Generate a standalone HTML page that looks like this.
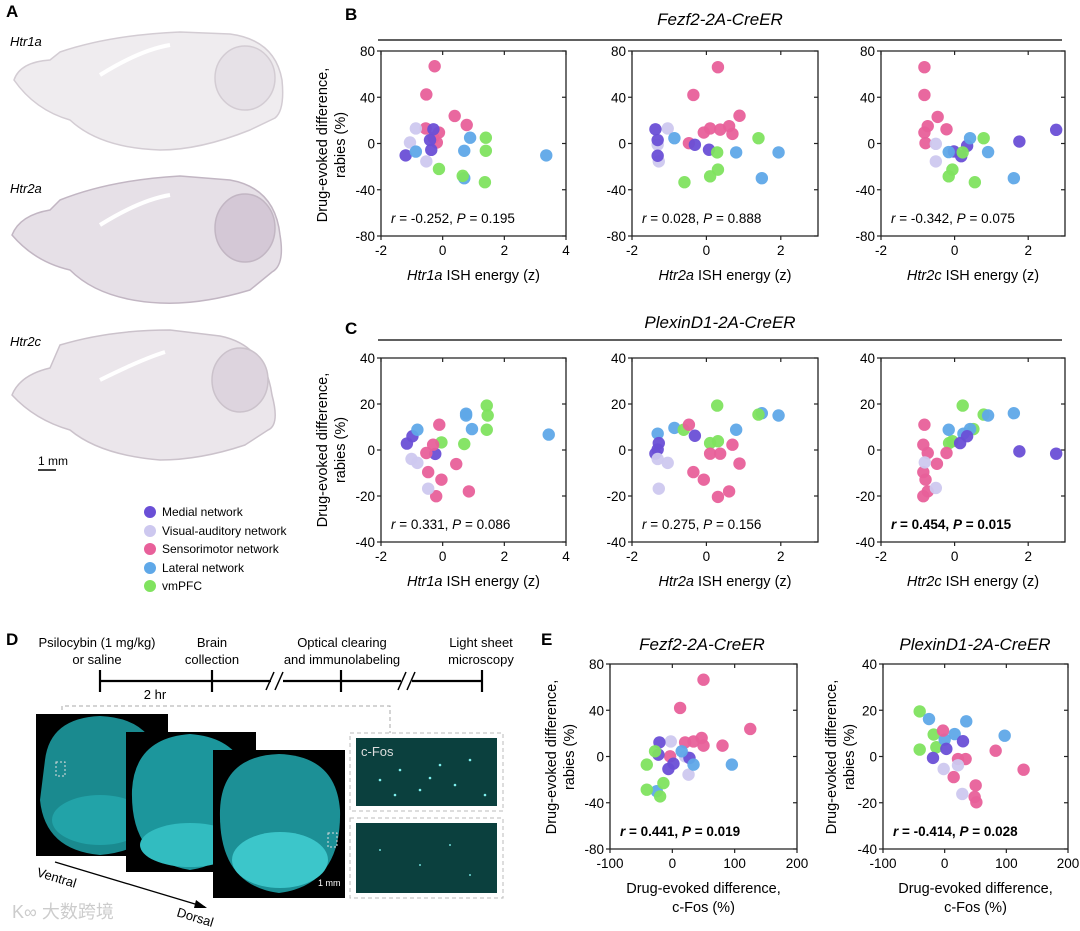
<!DOCTYPE html>
<html><head><meta charset="utf-8">
<style>
html,body{margin:0;padding:0;background:#fff;}
svg{display:block;font-family:"Liberation Sans","Noto Sans CJK SC",sans-serif;}
</style></head>
<body>
<svg id="fig" width="1080" height="931" viewBox="0 0 1080 931" xmlns="http://www.w3.org/2000/svg">
<g>
<text x="6" y="17" font-size="17" font-weight="bold">A</text>
<text x="10" y="46" font-size="13" font-style="italic">Htr1a</text>
<text x="10" y="193" font-size="13" font-style="italic">Htr2a</text>
<text x="10" y="346" font-size="13" font-style="italic">Htr2c</text>
<g fill="#efecef" stroke="#d3ccd3" stroke-width="1.5">
<path d="M14,80 Q20,62 50,60 L60,52 Q110,35 180,32 L230,34 Q275,40 282,80 Q285,110 275,118 L250,130 Q200,150 160,150 Q100,148 70,120 Q35,110 14,80 Z"/>
<ellipse cx="245" cy="78" rx="30" ry="32" fill="#e6e1e7"/>
<path d="M100,75 Q140,50 170,45" stroke="#fff" stroke-width="4" fill="none"/>
</g>
<g fill="#e6e0e7" stroke="#c2b6c3" stroke-width="1.5">
<path d="M12,235 Q20,215 50,210 L60,200 Q110,180 180,176 L230,180 Q275,188 280,235 Q285,265 272,272 L250,290 Q200,305 160,303 Q100,300 70,270 Q35,262 12,235 Z"/>
<ellipse cx="245" cy="228" rx="30" ry="34" fill="#d4c8d6"/>
<path d="M100,225 Q140,200 170,195" stroke="#fff" stroke-width="4" fill="none"/>
</g>
<g fill="#ebe6eb" stroke="#cbc2cb" stroke-width="1.5">
<path d="M12,395 Q20,375 50,368 L60,345 Q110,330 170,330 L220,336 Q265,345 272,395 Q280,425 268,430 L245,445 Q200,460 160,460 Q100,455 70,430 Q35,420 12,395 Z"/>
<ellipse cx="240" cy="380" rx="28" ry="32" fill="#ddd4de"/>
<path d="M100,380 Q140,360 165,352" stroke="#fff" stroke-width="4" fill="none"/>
</g>
<text x="38" y="465" font-size="12">1 mm</text>
<line x1="38" y1="470" x2="56" y2="470" stroke="#000" stroke-width="1.5"/>
</g>
<g font-size="12">
<g><circle cx="150" cy="512" r="6" fill="#6a4fd6"/><text x="162" y="516">Medial network</text></g>
<g><circle cx="150" cy="531" r="6" fill="#cdc8ef"/><text x="162" y="535">Visual-auditory network</text></g>
<g><circle cx="150" cy="549" r="6" fill="#e8609a"/><text x="162" y="553">Sensorimotor network</text></g>
<g><circle cx="150" cy="568" r="6" fill="#5fa8e8"/><text x="162" y="572">Lateral network</text></g>
<g><circle cx="150" cy="586" r="6" fill="#80e35f"/><text x="162" y="590">vmPFC</text></g>
</g>
<text x="345" y="20" font-size="17" font-weight="bold">B</text>
<text x="345" y="334" font-size="17" font-weight="bold">C</text>
<text x="6" y="645" font-size="17" font-weight="bold">D</text>
<text x="541" y="645" font-size="17" font-weight="bold">E</text>
<text x="720" y="25" font-size="17" font-style="italic" text-anchor="middle">Fezf2-2A-CreER</text>
<line x1="378" y1="40" x2="1062" y2="40" stroke="#000" stroke-width="1.2"/>
<text x="720" y="328" font-size="17" font-style="italic" text-anchor="middle">PlexinD1-2A-CreER</text>
<line x1="378" y1="340" x2="1062" y2="340" stroke="#000" stroke-width="1.2"/>
<text x="702" y="650" font-size="17" font-style="italic" text-anchor="middle">Fezf2-2A-CreER</text>
<text x="975" y="650" font-size="17" font-style="italic" text-anchor="middle">PlexinD1-2A-CreER</text>
<g font-size="13">
<text x="97" y="647" text-anchor="middle">Psilocybin (1 mg/kg)</text>
<text x="97" y="664" text-anchor="middle">or saline</text>
<text x="212" y="647" text-anchor="middle">Brain</text>
<text x="212" y="664" text-anchor="middle">collection</text>
<text x="342" y="647" text-anchor="middle">Optical clearing</text>
<text x="342" y="664" text-anchor="middle">and immunolabeling</text>
<text x="481" y="647" text-anchor="middle">Light sheet</text>
<text x="481" y="664" text-anchor="middle">microscopy</text>
<g stroke="#000" stroke-width="2.2">
<line x1="100" y1="681" x2="271" y2="681"/><line x1="283" y1="681" x2="401" y2="681"/><line x1="412" y1="681" x2="482" y2="681"/>
<line x1="100" y1="670" x2="100" y2="692"/><line x1="212" y1="670" x2="212" y2="692"/><line x1="341" y1="670" x2="341" y2="692"/><line x1="482" y1="670" x2="482" y2="692"/>
<line x1="266" y1="690" x2="274" y2="672" stroke-width="1.5"/><line x1="275" y1="690" x2="283" y2="672" stroke-width="1.5"/>
<line x1="398" y1="690" x2="406" y2="672" stroke-width="1.5"/><line x1="407" y1="690" x2="415" y2="672" stroke-width="1.5"/>
</g>
<text x="155" y="699" text-anchor="middle">2 hr</text>
<path d="M62,710 V706 H390 V733" fill="none" stroke="#aaa" stroke-dasharray="4,3"/>
<rect x="36" y="714" width="132" height="142" fill="#000"/>
<path d="M45,760 Q50,718 100,716 Q150,718 160,760 L165,800 Q160,850 100,855 Q45,850 40,800 Z" fill="#1a8a8f"/>
<ellipse cx="100" cy="820" rx="48" ry="25" fill="#22a3a8"/>
<rect x="56" y="762" width="9" height="14" fill="none" stroke="#ddd" stroke-dasharray="2,2"/>
<rect x="126" y="732" width="130" height="140" fill="#000"/>
<path d="M132,790 Q135,738 190,734 Q245,738 250,790 Q252,860 190,870 Q130,860 132,790 Z" fill="#1c969c"/>
<ellipse cx="190" cy="845" rx="50" ry="22" fill="#32bcc0"/>
<rect x="213" y="750" width="132" height="148" fill="#000"/>
<path d="M220,810 Q222,756 279,754 Q336,756 340,810 Q342,885 279,893 Q218,885 220,810 Z" fill="#1c9096"/>
<ellipse cx="280" cy="860" rx="48" ry="28" fill="#3cc6ca"/>
<rect x="328" y="833" width="9" height="14" fill="none" stroke="#ddd" stroke-dasharray="2,2"/>
<text x="318" y="886" font-size="9" fill="#fff">1 mm</text>
<rect x="350" y="733" width="153" height="78" fill="none" stroke="#bbb" stroke-dasharray="4,3"/>
<rect x="356" y="738" width="141" height="68" fill="#0b403e"/>
<g fill="#7ff0ee"><circle cx="380" cy="780" r="1.3"/><circle cx="400" cy="770" r="1.3"/><circle cx="420" cy="790" r="1.3"/><circle cx="440" cy="765" r="1.3"/><circle cx="455" cy="785" r="1.3"/><circle cx="470" cy="760" r="1.3"/><circle cx="485" cy="795" r="1.3"/><circle cx="430" cy="778" r="1.3"/><circle cx="395" cy="795" r="1.3"/></g>
<text x="361" y="756" fill="#ddd" font-size="13">c-Fos</text>
<rect x="350" y="818" width="153" height="80" fill="none" stroke="#bbb" stroke-dasharray="4,3"/>
<rect x="356" y="823" width="141" height="70" fill="#0b403e"/>
<g fill="#6fd8d6"><circle cx="380" cy="850" r="1"/><circle cx="420" cy="865" r="1"/><circle cx="450" cy="845" r="1"/><circle cx="470" cy="875" r="1"/></g>
<text x="36" y="876" transform="rotate(17 36 876)" font-size="13">Ventral</text>
<line x1="55" y1="862" x2="205" y2="907" stroke="#000" stroke-width="1.3"/>
<path d="M207,908 L196,900 L194,908 Z" fill="#000"/>
<text x="176" y="916" transform="rotate(17 176 916)" font-size="13">Dorsal</text>
<text x="12" y="918" font-size="18" fill="#ccc">K∞ 大数跨境</text>
</g>
<g id="charts"></g>
</svg>
<script>
const b1X=[-0.26,-0.53,0.39,0.78,-0.55,-0.12,-0.3,-0.19,-0.87,-1.06,-0.53,-0.3,-0.41,-0.37,-1.2,-0.87,0.89,0.7,0.7,3.36,1.4,1.4,-0.12,0.65,1.37];
const b1Y=[66.8,42.4,23.8,16,13,9.5,5,0.9,13,0.9,-15.5,12.3,3,-5.5,-10.3,-7,5,-6.3,-30,-10.3,5,-6.3,-22,-28,-33.5];
const b1G=["s","s","s","s","s","s","s","s","v","v","v","m","m","m","m","l","l","l","l","l","g","g","g","g","g"];
const b2X=[0.31,-0.35,0.89,0.61,0.37,0.1,-0.07,0.7,-0.47,-1.04,-1.31,-1.28,-1.37,-1.31,-1.31,-0.31,0.07,-0.86,0.8,1.94,1.49,1.4,0.29,0.31,0.1,-0.59];
const b2Y=[66,42,24,15,12,13,9.5,8.3,0.3,13,-1.1,-15.5,12.3,3,-10.6,-1.1,-5.4,4.6,-7.7,-7.7,-30,4.6,-7.7,-22.6,-28.4,-33.5];
const b2G=["s","s","s","s","s","s","s","s","s","v","v","v","m","m","m","m","m","l","l","l","l","g","g","g","g","g"];
const b3X=[-0.82,-0.82,-0.46,-0.73,-0.22,-0.82,-0.79,-0.51,-0.51,2.76,1.76,0.34,-0.02,0.18,0.42,-0.16,0.91,1.61,0.79,0.22,-0.06,-0.16,0.55];
const b3Y=[66,42,23,15,12.3,9.5,0.3,-0.3,-15.5,11.8,1.7,-2,-6.9,-11,4.6,-7.4,-7.4,-30,4.6,-7.7,-22.6,-28.4,-33.5];
const b3G=["s","s","s","s","s","s","s","v","v","m","m","m","m","m","l","l","l","l","g","g","g","g","g"];
const c1X=[-1.16,-0.98,-0.24,-0.82,0.76,0.76,0.95,3.44,1.43,1.46,1.43,-0.04,0.7,-0.11,-0.31,-0.53,0.44,-0.47,-0.04,0.85,-0.21,-1.01,-0.82,-0.47];
const c1Y=[2.8,6,-1.7,8.8,15.8,15,9.1,6.7,19.3,15,8.8,3.3,2.6,11,2.3,-1.3,-6.1,-9.6,-12.9,-18,-20.1,-3.9,-5.6,-16.8];
const c1G=["m","m","m","l","l","l","l","l","g","g","g","g","g","s","s","s","s","s","s","s","s","v","v","v"];
const c2X=[-1.31,-0.86,0.8,1.49,1.94,-0.61,0.29,1.4,0.1,0.31,-1.28,-1.31,-1.37,-0.31,-0.47,0.7,0.1,0.37,0.89,-0.35,-0.07,0.61,0.31,-1.31,-1.04,-1.28];
const c2Y=[7.1,9.6,8.8,16,15,8.8,19.3,15.4,3,3.8,3,0.2,-1.6,6.2,11,2.3,-1.6,-1.6,-5.9,-9.6,-12.9,-18,-20.4,-3.9,-5.6,-16.8];
const c2G=["l","l","l","l","l","g","g","g","g","g","m","m","m","m","s","s","s","s","s","s","s","s","s","v","v","v"];
const c3X=[0.22,0.79,0.51,-0.15,-0.06,1.61,0.91,-0.16,0.24,0.42,0.34,0.15,1.76,2.76,-0.82,-0.85,-0.73,-0.22,-0.48,-0.85,-0.79,-0.73,-0.85,-0.81,-0.51];
const c3Y=[19.3,15.4,9.1,3,3.8,16,15,8.8,7.1,9.1,6,3,-0.6,-1.6,11,2.3,-1.3,-1.3,-6,-9.6,-12.9,-18,-20.1,-5.4,-16.5];
const c3G=["g","g","g","g","g","l","l","l","l","l","m","m","m","m","s","s","s","s","s","s","s","s","s","v","v"];
const e1X=[50,12.5,125,34,20.5,47,50,80.5,-3.6,-2.5,20.5,26,-20.7,-22.3,27.5,1.8,-6.3,15,34,95.5,-25,-27.7,-41,-41,-14.3,-19.6];
const e1Y=[66.4,42,23.8,13,12.2,16,9.4,9.4,0.1,13,0.1,-15.7,12.2,1.6,-1.3,-6.2,-10.8,4.5,-7,-7,-30,4.5,-7,-28.7,-23,-34.5];
const e1G=["s","s","s","s","s","s","s","s","s","v","v","v","m","m","m","m","m","l","l","l","l","g","g","g","g","g"];
const e2X=[-40.5,-17.8,-40.5,-13.5,-25.4,35,16.2,97.3,0,-2.7,82.7,128,21.6,34,14.6,50.3,48.6,51.4,29.7,2.7,-18.9,-1.6,21.6,28.6];
const e2Y=[19.5,9.5,3,4,16.2,15.2,9.7,9,7.3,11.2,2.5,-5.7,-1.1,-1.1,-8.9,-12.5,-17.5,-19.8,6.6,3.3,-0.6,-5.4,-3.8,-16.2];
const e2G=["g","g","g","g","l","l","l","l","l","s","s","s","s","s","s","s","s","s","m","m","m","v","v","v"];
const bYTicks=[-80,-40,0,40,80];
const cYTicks=[-40,-20,0,20,40];
const zXTicks1=[-2,0,2,4];
const zXTicks2=[-2,0,2];
const eXTicks=[-100,0,100,200];

const COLORS={m:"#6a4fd6",v:"#cdc8ef",s:"#e8609a",l:"#5fa8e8",g:"#80e35f"};
const NS="http://www.w3.org/2000/svg";
const root=document.getElementById("charts");
function mk(tag,attrs,parent){const e=document.createElementNS(NS,tag);for(const k in attrs)e.setAttribute(k,attrs[k]);parent.appendChild(e);return e;}

function scatter(name,box,xd,yd,xt,yt,xs,ys,gs,stat,bold,xTitleLines){
  const g=mk("g",{},root);
  
  
  const [L,T,R,B]=box;
  const sx=v=>L+(v-xd[0])/(xd[1]-xd[0])*(R-L);
  const sy=v=>B-(v-yd[0])/(yd[1]-yd[0])*(B-T);
  const ax=mk("path",{d:`M${L},${T}H${R}V${B}H${L}Z`,fill:"none",stroke:"#222","stroke-width":1.3},g);
  
  
  xt.forEach(v=>{const x=sx(v);
    mk("line",{x1:x,y1:B,x2:x,y2:B+4,stroke:"#222","stroke-width":1.2},g);
    mk("line",{x1:x,y1:T,x2:x,y2:T+4,stroke:"#222","stroke-width":1.2},g);
    const t=mk("text",{x:x,y:B+19,"font-size":13.5,"text-anchor":"middle"},g);t.textContent=v;
    
    });
  yt.forEach(v=>{const y=sy(v);
    mk("line",{x1:L-4,y1:y,x2:L,y2:y,stroke:"#222","stroke-width":1.2},g);
    mk("line",{x1:R-4,y1:y,x2:R,y2:y,stroke:"#222","stroke-width":1.2},g);
    const t=mk("text",{x:L-6,y:y+5,"font-size":13.5,"text-anchor":"end"},g);t.textContent=v;
    
    });
  xs.forEach((v,i)=>{const c=mk("circle",{cx:sx(v),cy:sy(ys[i]),r:6.2,fill:COLORS[gs[i]],"fill-opacity":0.95},g);
    
    });
  const st=mk("text",{x:L+10,y:B-13,"font-size":13.5,"font-weight":bold?"bold":"normal"},g);
  st.innerHTML=`<tspan font-style="italic">r</tspan> = ${stat[0]}, <tspan font-style="italic">P</tspan> = ${stat[1]}`;
  
  
  const mid=(L+R)/2;
  xTitleLines.forEach((ln,i)=>{const t=mk("text",{x:mid,y:B+44+i*19,"font-size":14.5,"text-anchor":"middle"},g);t.innerHTML=ln;
    
    });
}
function ylabel(x,cy){
  const t=mk("text",{transform:`translate(${x},${cy}) rotate(-90)`,"font-size":14.5,"text-anchor":"middle"},root);
  t.innerHTML=`<tspan x="0" dy="0">Drug-evoked difference,</tspan><tspan x="0" dy="18">rabies (%)</tspan>`;
  
  
}
const gene=n=>[`<tspan font-style="italic">${n}</tspan> ISH energy (z)`];
const eT=["Drug-evoked difference,","c-Fos (%)"];
scatter("chart-b-htr1a",[381,51,566,236],[-2,4],[-80,80],zXTicks1,bYTicks,b1X,b1Y,b1G,["-0.252","0.195"],false,gene("Htr1a"));
scatter("chart-b-htr2a",[632,51,818,236],[-2,3],[-80,80],zXTicks2,bYTicks,b2X,b2Y,b2G,["0.028","0.888"],false,gene("Htr2a"));
scatter("chart-b-htr2c",[881,51,1065,236],[-2,3],[-80,80],zXTicks2,bYTicks,b3X,b3Y,b3G,["-0.342","0.075"],false,gene("Htr2c"));
scatter("chart-c-htr1a",[381,358,566,542],[-2,4],[-40,40],zXTicks1,cYTicks,c1X,c1Y,c1G,["0.331","0.086"],false,gene("Htr1a"));
scatter("chart-c-htr2a",[632,358,818,542],[-2,3],[-40,40],zXTicks2,cYTicks,c2X,c2Y,c2G,["0.275","0.156"],false,gene("Htr2a"));
scatter("chart-c-htr2c",[881,358,1065,542],[-2,3],[-40,40],zXTicks2,cYTicks,c3X,c3Y,c3G,["0.454","0.015"],true,gene("Htr2c"));
scatter("chart-e-fezf2",[610,664,797,849],[-100,200],[-80,80],eXTicks,bYTicks,e1X,e1Y,e1G,["0.441","0.019"],true,eT);
scatter("chart-e-plexind1",[883,664,1068,849],[-100,200],[-40,40],eXTicks,cYTicks,e2X,e2Y,e2G,["-0.414","0.028"],true,eT);
ylabel(327,145);ylabel(327,450);ylabel(556,757);ylabel(836,757);
</script>
</body></html>
